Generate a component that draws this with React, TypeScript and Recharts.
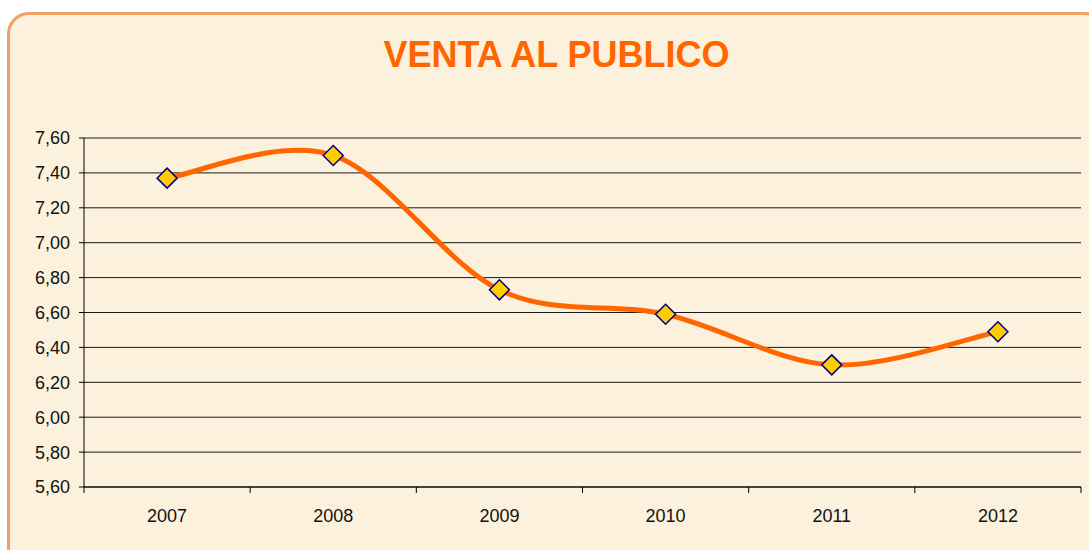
import { LineChart, Line, XAxis, YAxis, CartesianGrid } from 'recharts'

const years = ['2007', '2008', '2009', '2010', '2011', '2012']
const ventaValues = [7.37, 7.5, 6.73, 6.59, 6.3, 6.49]
const yTicks = [5.6, 5.8, 6.0, 6.2, 6.4, 6.6, 6.8, 7.0, 7.2, 7.4, 7.6]

const data = years.map((year, i) => ({ year, venta: ventaValues[i] }))

const W = 1089
const H = 550
const MARGIN = { top: 138, right: 8, bottom: 23, left: 0 }
const Y_AXIS_W = 84
const PLOT_W = W - MARGIN.left - MARGIN.right - Y_AXIS_W
const STEP = PLOT_W / years.length
const X_TICK_SIZE = 5
const X_TICK_MARGIN = 17
const FONT = '"Liberation Sans", Arial, sans-serif'

// Excel-style smoothing (Catmull-Rom as cubic bezier)
function excelSmooth(context: any) {
  let pts: [number, number][] = []
  return {
    areaStart() {},
    areaEnd() {},
    lineStart() {
      pts = []
    },
    point(x: number, y: number) {
      pts.push([+x, +y])
    },
    lineEnd() {
      if (!pts.length) return
      context.moveTo(pts[0][0], pts[0][1])
      for (let i = 0; i < pts.length - 1; i++) {
        const p0 = pts[i - 1] || pts[i]
        const p1 = pts[i]
        const p2 = pts[i + 1]
        const p3 = pts[i + 2] || p2
        const c1x = p1[0] + (p2[0] - p0[0]) / 6
        const c1y = p1[1] + (p2[1] - p0[1]) / 6
        const c2x = p2[0] - (p3[0] - p1[0]) / 6
        const c2y = p2[1] - (p3[1] - p1[1]) / 6
        context.bezierCurveTo(c1x, c1y, c2x, c2y, p2[0], p2[1])
      }
    },
  }
}

const Diamond = (props: any) => {
  const { cx, cy } = props
  if (cx == null || cy == null) return null
  const r = 10
  return (
    <polygon
      points={`${cx},${cy - r} ${cx + r},${cy} ${cx},${cy + r} ${cx - r},${cy}`}
      fill="#FFCC00"
      stroke="#000080"
      strokeWidth={1.5}
    />
  )
}

const YearTick = (props: any) => {
  const { x, y, payload, index } = props
  const axisY = y - X_TICK_SIZE - X_TICK_MARGIN
  const left = x - STEP / 2
  return (
    <g>
      <line x1={left} y1={axisY} x2={left} y2={axisY + 6} stroke="#000" />
      {index === years.length - 1 && (
        <line x1={x + STEP / 2} y1={axisY} x2={x + STEP / 2} y2={axisY + 6} stroke="#000" />
      )}
      <text x={x} y={y} dy="0.71em" textAnchor="middle" fill="#111" fontSize={18} fontFamily={FONT}>
        {payload.value}
      </text>
    </g>
  )
}

const ValueTick = (props: any) => {
  const { x, y, payload } = props
  return (
    <text x={x} y={y} dy="0.36em" textAnchor="end" fill="#111" fontSize={18} fontFamily={FONT}>
      {Number(payload.value).toFixed(2).replace('.', ',')}
    </text>
  )
}

export default function App() {
  return (
    <div style={{ position: 'fixed', left: 0, top: 0, width: W, height: H, overflow: 'hidden', background: '#fff' }}>
      <div
        style={{
          position: 'absolute',
          left: 7,
          top: 12,
          width: 1100,
          height: 560,
          boxSizing: 'border-box',
          border: '3px solid #F2A064',
          borderRadius: 22,
          background: '#FCF1DC',
        }}
      />
      <div
        style={{
          position: 'absolute',
          left: 0,
          width: 1113,
          top: 34,
          textAlign: 'center',
          fontFamily: FONT,
          fontWeight: 'bold',
          fontSize: 36,
          color: '#FF6600',
          lineHeight: '42px',
        }}
      >
        VENTA AL PUBLICO
      </div>
      <div style={{ position: 'absolute', left: 0, top: 0 }}>
        <LineChart width={W} height={H} data={data} margin={MARGIN}>
          <CartesianGrid horizontal vertical={false} stroke="#000" strokeOpacity={0.9} />
          <XAxis
            dataKey="year"
            padding={{ left: STEP / 2, right: STEP / 2 }}
            axisLine={{ stroke: '#000' }}
            tickLine={false}
            tickSize={X_TICK_SIZE}
            tickMargin={X_TICK_MARGIN}
            tick={<YearTick />}
            interval={0}
            height={40}
          />
          <YAxis
            width={Y_AXIS_W}
            domain={[5.6, 7.6]}
            ticks={yTicks}
            interval={0}
            axisLine={{ stroke: '#000' }}
            tickLine={{ stroke: '#000' }}
            tickSize={5}
            tickMargin={9}
            tick={<ValueTick />}
          />
          <Line
            dataKey="venta"
            type={excelSmooth as any}
            stroke="#FF6600"
            strokeWidth={5}
            dot={<Diamond />}
            activeDot={false}
            isAnimationActive={false}
          />
        </LineChart>
      </div>
    </div>
  )
}
